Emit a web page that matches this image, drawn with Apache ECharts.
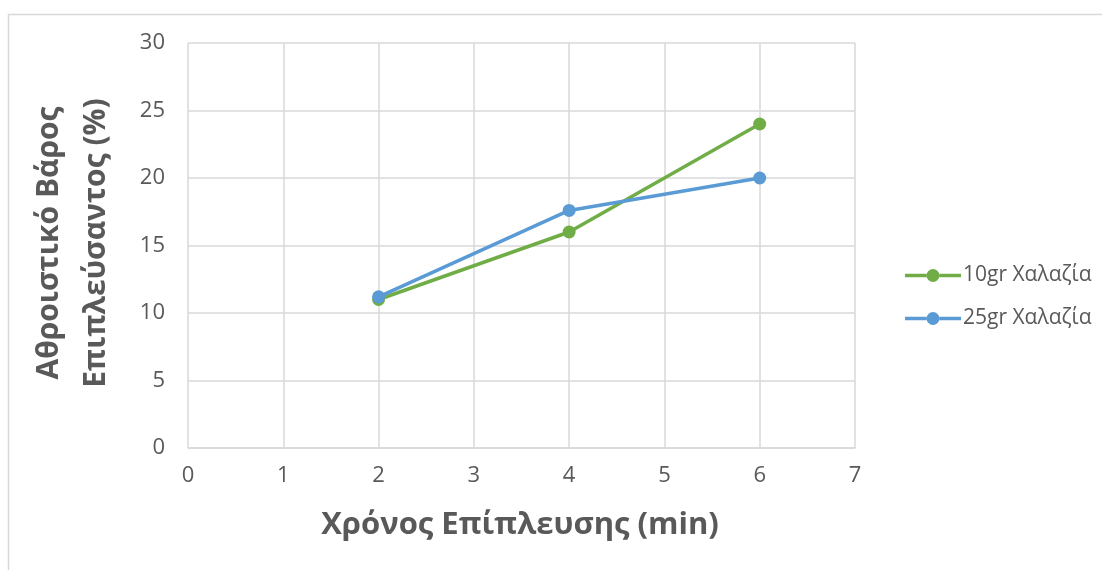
<!DOCTYPE html>
<html><head><meta charset="utf-8">
<script src="https://cdn.jsdelivr.net/npm/echarts@6/dist/echarts.min.js"></script>
<style>html,body{margin:0;padding:0;background:#fff}#c{width:1102px;height:570px}</style>
</head><body><div id="c"></div>
<script>
const seriesNames = ['10gr Χαλαζία', '25gr Χαλαζία'];
const xValues = [2, 4, 6];
const values10 = [11, 16, 24];
const values25 = [11.2, 17.6, 20];
const xTitle = 'Χρόνος Επίπλευσης (min)';
const yTitle = ['Αθροιστικό Βάρος', 'Επιπλεύσαντος (%)'];
const colors = ['#70ad47', '#5b9bd5'];
const font = '"Open Sans", "Noto Sans", sans-serif';
const legendIcon = 'path://M0,4.75 L21.5,4.75 L21.5,8.25 L0,8.25 Z M34.5,4.75 L56,4.75 L56,8.25 L34.5,8.25 Z M21.5,6.5 A6.5,6.5 0 1,1 34.5,6.5 A6.5,6.5 0 1,1 21.5,6.5 Z';

const chart = echarts.init(document.getElementById('c'));
chart.setOption({
  animation: false,
  textStyle: { fontFamily: font },
  grid: { left: 188, top: 43, width: 667, height: 405, containLabel: false },
  graphic: [
    { type: 'rect', shape: { x: 8.5, y: 14.5, width: 1200, height: 1000 }, style: { fill: 'none', stroke: '#d9d9d9', lineWidth: 1.5 }, silent: true },
    { type: 'text', x: 520, y: 525, style: { text: xTitle, font: 'bold 31px ' + font, fill: '#595959', textAlign: 'center', textVerticalAlign: 'middle' } },
    { type: 'text', x: 73, y: 243, rotation: Math.PI / 2, style: { text: yTitle.join('\n'), font: 'bold 30px ' + font, fill: '#595959', textAlign: 'center', textVerticalAlign: 'middle', lineHeight: 47 } }
  ],
  legend: {
    orient: 'vertical', left: 900, top: 260, itemGap: 22, itemWidth: 56, itemHeight: 13,
    icon: legendIcon,
    textStyle: { fontSize: 21, color: '#595959', fontFamily: font, padding: [0, 0, 0, -3] },
    data: seriesNames
  },
  xAxis: {
    type: 'value', min: 0, max: 7, interval: 1,
    axisLine: { show: true, lineStyle: { color: '#d9d9d9', width: 1.5 } },
    axisTick: { show: false },
    axisLabel: { color: '#595959', fontSize: 22, margin: 17 },
    splitLine: { show: true, lineStyle: { color: '#d9d9d9', width: 1.5 } }
  },
  yAxis: {
    type: 'value', min: 0, max: 30, interval: 5,
    axisLine: { show: false },
    axisTick: { show: false },
    axisLabel: { color: '#595959', fontSize: 22, margin: 23 },
    splitLine: { show: true, lineStyle: { color: '#d9d9d9', width: 1.5 } }
  },
  series: [
    { name: seriesNames[0], type: 'line', data: xValues.map((x, i) => [x, values10[i]]), color: colors[0],
      lineStyle: { width: 3.5 }, symbol: 'circle', symbolSize: 13, itemStyle: { color: colors[0] } },
    { name: seriesNames[1], type: 'line', data: xValues.map((x, i) => [x, values25[i]]), color: colors[1],
      lineStyle: { width: 3.5 }, symbol: 'circle', symbolSize: 13, itemStyle: { color: colors[1] } }
  ]
});
</script></body></html>
